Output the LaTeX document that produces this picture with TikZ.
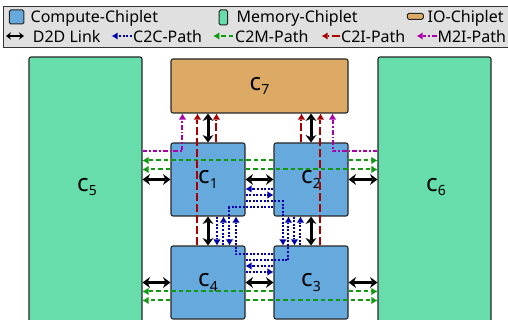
\documentclass[tikz,border=0pt]{standalone}
\usepackage{fontspec}
\setmainfont{Noto Sans}
\usetikzlibrary{arrows.meta,calc}
\definecolor{compc}{HTML}{66AADD}
\definecolor{memc}{HTML}{66DDAA}
\definecolor{ioc}{HTML}{DDAA66}
\definecolor{c2ccol}{HTML}{0000AA}
\definecolor{c2mcol}{HTML}{119911}
\definecolor{c2icol}{HTML}{AA0000}
\definecolor{m2icol}{HTML}{AA00AA}
\newcommand{\chipname}[1]{c\raisebox{-4.5pt}{\fontsize{14}{16}\selectfont #1}}
\begin{document}
\begin{tikzpicture}[x=1pt,y=-1pt,
  chip/.style={draw=black!85, line width=1.1pt, rounded corners=2pt, inner sep=0pt, font=\fontsize{24}{28}\selectfont},
  comp/.style={chip, fill=compc, minimum width=74pt, minimum height=73pt},
  mem/.style={chip, fill=memc, minimum width=113pt, minimum height=273pt},
  io/.style={chip, fill=ioc, minimum width=177pt, minimum height=54pt},
  lbl/.style={inner sep=0pt, font=\fontsize{24}{28}\selectfont},
  legsym/.style={draw=black!85, line width=1pt, rounded corners=1.5pt, inner sep=0pt},
  legtxt/.style={anchor=base west, inner sep=0pt, font=\fontsize{16}{19}\selectfont},
  d2d/.style={draw=black, line width=3pt, {Stealth[length=7.5pt,width=11pt,line width=0pt]}-{Stealth[length=7.5pt,width=11pt,line width=0pt]}},
  d2dleg/.style={draw=black, line width=2.2pt, {Stealth[length=5pt,width=7.5pt,line width=0pt]}-{Stealth[length=5pt,width=7.5pt,line width=0pt]}},
  pth/.style={line width=2pt, -{Latex[length=6pt,width=7pt,line width=0pt]}},
  c2c/.style={pth, draw=c2ccol, dash pattern=on 2pt off 1.6pt},
  c2m/.style={pth, draw=c2mcol, dash pattern=on 4.5pt off 3pt},
  c2i/.style={pth, draw=c2icol, dash pattern=on 8pt off 3pt},
  m2i/.style={pth, draw=m2icol, dash pattern=on 4.5pt off 2pt on 1.8pt off 2pt},
]
\useasboundingbox (0,0) rectangle (508,320);
\clip (0,0) rectangle (508,320);

% legend
\node[draw=black!80, fill=black!12, line width=0.9pt, minimum width=507pt, minimum height=41.5pt, inner sep=0pt] (leg) at (256.5,26.75) {};
\node[legsym, fill=compc, minimum width=14.5pt, minimum height=14pt] (lcomp) at (16.7,17) {};
\node[legtxt] (tcomp) at (30.5,22.7) {Compute-Chiplet};
\node[legsym, fill=memc, minimum width=8.5pt, minimum height=15pt] (lmem) at (223.3,17.5) {};
\node[legtxt] (tmem) at (236.5,22.7) {Memory-Chiplet};
\node[legsym, fill=ioc, minimum width=16pt, minimum height=6pt] (lio) at (415.3,16.3) {};
\node[legtxt] (tio) at (427.5,22.7) {IO-Chiplet};

\coordinate (ld2a) at (6,36); \coordinate (ld2b) at (24,36);
\draw[d2dleg] (ld2a) -- (ld2b);
\node[legtxt] (td2d) at (32.7,42.6) {D2D Link};
\coordinate (lc2ca) at (111.7,36); \coordinate (lc2cb) at (131.7,36);
\draw[c2c] (lc2cb) -- (lc2ca);
\node[legtxt] (tc2c) at (133,42.6) {C2C-Path};
\coordinate (lc2ma) at (213.3,36); \coordinate (lc2mb) at (233.3,36);
\draw[c2m] (lc2mb) -- (lc2ma);
\node[legtxt] (tc2m) at (235,42.6) {C2M-Path};
\coordinate (lc2ia) at (321.7,36); \coordinate (lc2ib) at (340,36);
\draw[c2i] (lc2ib) -- (lc2ia);
\node[legtxt] (tc2i) at (341,42.6) {C2I-Path};
\coordinate (lm2ia) at (416.7,36); \coordinate (lm2ib) at (436.7,36);
\draw[m2i] (lm2ib) -- (lm2ia);
\node[legtxt] (tm2i) at (437.3,42.6) {M2I-Path};

% chiplets
\node[mem] (c5) at (85.5,193.5) {};
\node[mem] (c6) at (434.5,193.5) {};
\node[lbl] (t5) at (87,187) {\chipname{5}};
\node[lbl] (t6) at (436,187) {\chipname{6}};
\node[io] (c7) at (259.5,86) {\chipname{7}};
\node[comp] (c1) at (208,179.5) {\chipname{1}};
\node[comp] (c2) at (311,179.5) {\chipname{2}};
\node[comp] (c4) at (208,282.5) {\chipname{4}};
\node[comp] (c3) at (311,282.5) {\chipname{3}};

% C2M
\coordinate (g2) at ($(c2.north west)+(0,18)$);
\coordinate (g2e) at ($(c2.north east)+(0,18)$);
\coordinate (g1) at ($(c1.north west)+(0,27)$);
\coordinate (g1e) at ($(c1.north east)+(0,27)$);
\coordinate (g3) at ($(c3.north west)+(0,46)$);
\coordinate (g3e) at ($(c3.north east)+(0,46)$);
\coordinate (g4) at ($(c4.north west)+(0,55)$);
\coordinate (g4e) at ($(c4.north east)+(0,55)$);
\draw[c2m] (g2) -- (g2 -| c5.east);
\draw[c2m] (g2e) -- (g2e -| c6.west);
\draw[c2m] (g1) -- (g1 -| c5.east);
\draw[c2m] (g1e) -- (g1e -| c6.west);
\draw[c2m] (g3) -- (g3 -| c5.east);
\draw[c2m] (g3e) -- (g3e -| c6.west);
\draw[c2m] (g4) -- (g4 -| c5.east);
\draw[c2m] (g4e) -- (g4e -| c6.west);

% M2I
\coordinate (m5) at ($(c5.north east)+(0,95)$);
\coordinate (m7a) at ($(c7.south west)+(12,0)$);
\coordinate (m6) at ($(c6.north west)+(0,95)$);
\coordinate (m7b) at ($(c7.south east)+(-16,0)$);
\draw[m2i] (m5) -| (m7a);
\draw[m2i] (m6) -| (m7b);

% C2I
\coordinate (i1) at ($(c1.north west)+(46,0)$);
\coordinate (i4) at ($(c4.north west)+(27,0)$);
\coordinate (i2) at ($(c2.north west)+(28,0)$);
\coordinate (i3) at ($(c3.north west)+(47,0)$);
\draw[c2i] (i1) -- (i1 |- c7.south);
\draw[c2i] (i4) -- (i4 |- c7.south);
\draw[c2i] (i2) -- (i2 |- c7.south);
\draw[c2i] (i3) -- (i3 |- c7.south);

% C2C
\coordinate (b21) at ($(c2.north west)+(0,46.5)$);
\coordinate (b12) at ($(c1.north east)+(0,52.5)$);
\coordinate (b13) at ($(c1.north east)+(0,59)$);
\coordinate (b13t) at ($(c3.north west)+(9.5,0)$);
\coordinate (b24) at ($(c2.north west)+(0,65)$);
\coordinate (b24t) at ($(c4.north west)+(59,0)$);
\coordinate (b14) at ($(c1.south west)+(46.5,0)$);
\coordinate (b41) at ($(c4.north west)+(53,0)$);
\coordinate (b31) at ($(c3.north west)+(0,9)$);
\coordinate (b31t) at ($(c1.south west)+(65.5,0)$);
\coordinate (b42) at ($(c4.north east)+(0,15)$);
\coordinate (b42t) at ($(c2.south west)+(15,0)$);
\coordinate (b23) at ($(c2.south west)+(21,0)$);
\coordinate (b32) at ($(c3.north west)+(27,0)$);
\coordinate (b34) at ($(c3.north west)+(0,20.5)$);
\coordinate (b43) at ($(c4.north east)+(0,26.5)$);
\draw[c2c] (b21) -- (b21 -| c1.east);
\draw[c2c] (b12) -- (b12 -| c2.west);
\draw[c2c] (b13) -| (b13t);
\draw[c2c] (b24) -| (b24t);
\draw[c2c] (b14) -- (b14 |- c4.north);
\draw[c2c] (b41) -- (b41 |- c1.south);
\draw[c2c] (b31) -| (b31t);
\draw[c2c] (b42) -| (b42t);
\draw[c2c] (b23) -- (b23 |- c3.north);
\draw[c2c] (b32) -- (b32 |- c2.south);
\draw[c2c] (b34) -- (b34 -| c4.east);
\draw[c2c] (b43) -- (b43 -| c3.west);

% D2D
\draw[d2d] (c1.north) -- (c1.north |- c7.south);
\draw[d2d] (c2.north) -- (c2.north |- c7.south);
\draw[d2d] (c1.east) -- (c2.west);
\draw[d2d] (c1.west -| c5.east) -- (c1.west);
\draw[d2d] (c2.east) -- (c2.east -| c6.west);
\draw[d2d] (c1.south) -- (c4.north);
\draw[d2d] (c2.south) -- (c3.north);
\draw[d2d] (c4.east) -- (c3.west);
\draw[d2d] (c4.west -| c5.east) -- (c4.west);
\draw[d2d] (c3.east) -- (c3.east -| c6.west);
\end{tikzpicture}
\end{document}
